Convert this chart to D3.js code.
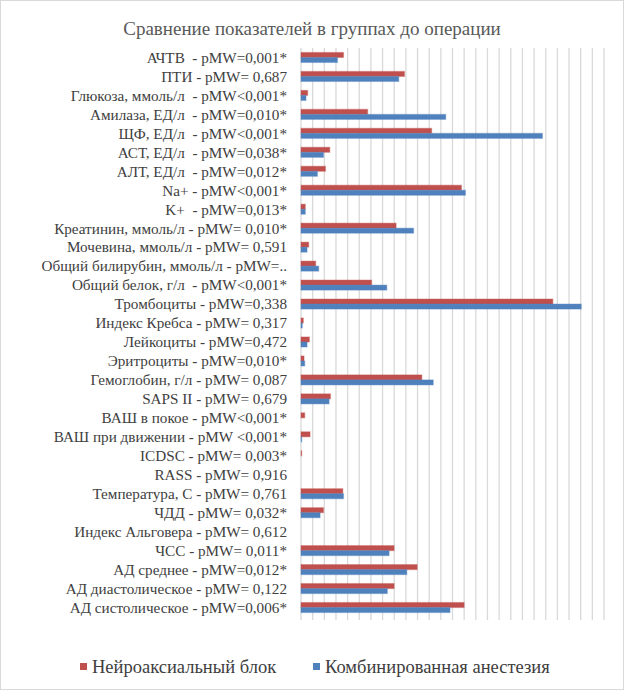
<!DOCTYPE html>
<html>
<head>
<meta charset="utf-8">
<script src="https://cdn.jsdelivr.net/npm/d3@7"></script>
<style>
  body { margin: 0; background: #fff; }
  svg text { white-space: pre; }
</style>
</head>
<body>
<svg id="chart" width="624" height="690" font-family="'Liberation Serif', 'Times New Roman', serif"></svg>
<script>
// categories, top to bottom as they appear
const categories = [
  "АЧТВ  - pMW=0,001*",
  "ПТИ - pMW= 0,687",
  "Глюкоза, ммоль/л  - pMW<0,001*",
  "Амилаза, ЕД/л  - pMW=0,010*",
  "ЩФ, ЕД/л  - pMW<0,001*",
  "АСТ, ЕД/л  - pMW=0,038*",
  "АЛТ, ЕД/л  - pMW=0,012*",
  "Na+ - pMW<0,001*",
  "K+  - pMW=0,013*",
  "Креатинин, ммоль/л - pMW= 0,010*",
  "Мочевина, ммоль/л - pMW= 0,591",
  "Общий билирубин, ммоль/л - pMW=..",
  "Общий белок, г/л  - pMW<0,001*",
  "Тромбоциты - pMW=0,338",
  "Индекс Кребса - pMW= 0,317",
  "Лейкоциты - pMW=0,472",
  "Эритроциты - pMW=0,010*",
  "Гемоглобин, г/л - pMW= 0,087",
  "SAPS II - pMW= 0,679",
  "ВАШ в покое - pMW<0,001*",
  "ВАШ при движении - pMW <0,001*",
  "ICDSC - pMW= 0,003*",
  "RASS - pMW= 0,916",
  "Температура, С - pMW= 0,761",
  "ЧДД - pMW= 0,032*",
  "Индекс Альговера - pMW= 0,612",
  "ЧСС - pMW= 0,011*",
  "АД среднее - pMW=0,012*",
  "АД диастолическое - pMW= 0,122",
  "АД систолическое - pMW=0,006*"
]

// Нейроаксиальный блок
const neuraxial = [36.5, 88.8, 5.7, 57.2, 112.1, 24.7, 21.0, 137.7, 3.7, 81.6,
  6.6, 12.6, 60.6, 216.1, 2.0, 7.2, 2.6, 103.7, 25.3, 3.2,
  7.8, 0.6, 0, 35.9, 19.3, 0, 79.9, 99.7, 79.9, 140.0]

// Комбинированная анестезия
const combined = [31.3, 83.9, 4.3, 124.2, 207.2, 19.3, 14.1, 141.1, 3.7, 96.6,
  5.2, 15.2, 73.6, 240.5, 1.1, 5.2, 3.2, 113.5, 24.1, 0,
  0.6, 0, 0, 36.5, 16.4, 0, 75.6, 90.8, 74.1, 127.9]

const seriesNames = ["Нейроаксиальный блок", "Комбинированная анестезия"]
const seriesColors = ["#C0504D", "#4F81BD"]
const seriesStroke = ["rgba(192,80,77,0.35)", "rgba(79,129,189,0.35)"]
const xTicks = d3.range(0, 261, 10)

const svg = d3.select('#chart')

// chart border
svg.append('rect')
  .attr('x', 0.5).attr('y', 0.5)
  .attr('width', 623).attr('height', 689)
  .attr('fill', '#fff')
  .attr('stroke', '#d9d9d9')

// title
svg.append('text')
  .attr('x', 312).attr('y', 35)
  .attr('text-anchor', 'middle')
  .attr('font-size', 19)
  .attr('fill', '#595959')
  .text('Сравнение показателей в группах до операции')

const plotTop = 48, plotBottom = 617

const x = d3.scaleLinear().domain([0, 260]).range([301, 604])

const y = d3.scaleBand()
  .domain(categories)
  .range([plotTop, plotBottom])
  .paddingInner(0.47)
  .paddingOuter(0.235)

const ySub = d3.scaleBand()
  .domain([0, 1])
  .range([0, y.bandwidth()])

// grid lines
svg.append('g')
  .selectAll('line')
  .data(xTicks)
  .enter()
  .append('line')
  .attr('x1', d => x(d)).attr('x2', d => x(d))
  .attr('y1', plotTop).attr('y2', plotBottom + 3)
  .attr('stroke', '#d9d9d9')
  .attr('stroke-width', 1.3)

// category labels
svg.append('g')
  .selectAll('text')
  .data(categories)
  .enter()
  .append('text')
  .attr('x', 287)
  .attr('y', d => y(d) + y.bandwidth() / 2)
  .attr('dy', '0.35em')
  .attr('text-anchor', 'end')
  .attr('font-size', 15.2)
  .attr('fill', '#404040')
  .text(d => d)

// bars
const series = [neuraxial, combined]
series.forEach((values, si) => {
  svg.append('g')
    .selectAll('rect')
    .data(categories.map((c, i) => ({ c: c, v: values[i] })).filter(d => d.v > 0))
    .enter()
    .append('rect')
    .attr('x', x(0))
    .attr('y', d => y(d.c) + ySub(si))
    .attr('width', d => x(d.v) - x(0))
    .attr('height', ySub.bandwidth())
    .attr('fill', seriesColors[si])
    .attr('stroke', seriesStroke[si])
    .attr('stroke-width', 1.2)
})

// legend
const legendX = [80, 313]
const legend = svg.append('g')
seriesNames.forEach((name, i) => {
  legend.append('rect')
    .attr('x', legendX[i]).attr('y', 663)
    .attr('width', 7).attr('height', 7)
    .attr('fill', seriesColors[i])
  legend.append('text')
    .attr('x', legendX[i] + 12).attr('y', 667)
    .attr('dy', '0.35em')
    .attr('font-size', 18.5)
    .attr('fill', '#404040')
    .text(name)
})
</script>
</body>
</html>
